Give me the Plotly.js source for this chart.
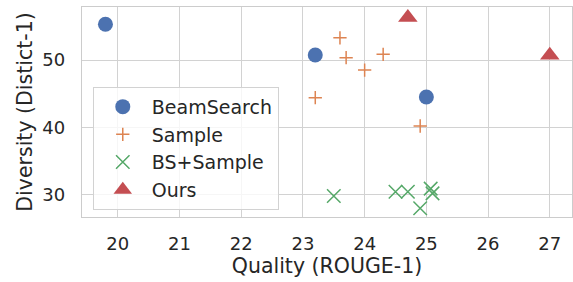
<!DOCTYPE html>
<html><head><meta charset="utf-8">
<script src="https://cdn.plot.ly/plotly-3.0.1.min.js"></script>
<style>html,body{margin:0;padding:0;background:#fff}#plot{width:573px;height:282px}</style>
</head><body><div id="plot"></div>
<script>
const beamX = [19.8, 23.2, 25.0];
const beamY = [55.3, 50.75, 44.5];
const sampleX = [23.6, 23.7, 24.0, 24.3, 23.2, 24.9];
const sampleY = [53.3, 50.35, 48.5, 50.85, 44.4, 40.2];
const bsSampleX = [23.5, 24.5, 24.7, 24.9, 25.07, 25.1];
const bsSampleY = [29.8, 30.45, 30.45, 28.0, 30.9, 30.2];
const oursX = [24.7, 27.0];
const oursY = [56.3, 50.7];
const names = ['BeamSearch', 'Sample', 'BS+Sample', 'Ours'];
const colors = ['#4C72B0', '#DD8452', '#55A868', '#C44E52'];

const traces = [
  {x: beamX, y: beamY, name: names[0], mode: 'markers', type: 'scatter',
   marker: {symbol: 'circle', size: 15, color: colors[0], line: {width: 0}}},
  {x: sampleX, y: sampleY, name: names[1], mode: 'markers', type: 'scatter',
   marker: {symbol: 'cross-thin', size: 9.5, color: colors[1], line: {width: 1.5, color: colors[1]}}},
  {x: bsSampleX, y: bsSampleY, name: names[2], mode: 'markers', type: 'scatter',
   marker: {symbol: 'x-thin', size: 13.5, color: colors[2], line: {width: 1.5, color: colors[2]}}},
  {x: oursX, y: oursY, name: names[3], mode: 'markers', type: 'scatter',
   marker: {symbol: 'triangle-up', size: 17, color: colors[3], line: {width: 0}}}
];

const axisCommon = {
  showgrid: true, gridcolor: '#d2d2d2', gridwidth: 1,
  showline: true, mirror: true, linecolor: '#cccccc', linewidth: 1.25,
  zeroline: false, ticks: '', tickfont: {size: 18, color: '#262626', family: 'DejaVu Sans'}
};

const layout = {
  width: 573, height: 282,
  margin: {l: 82, r: 1, t: 7, b: 65},
  paper_bgcolor: '#ffffff', plot_bgcolor: '#ffffff',
  font: {family: 'DejaVu Sans', color: '#262626', size: 18},
  showlegend: true,
  legend: {x: 0.022, y: 0.62, xanchor: 'left', yanchor: 'top',
    bgcolor: 'rgba(255,255,255,0.8)', bordercolor: '#d2d2d2', borderwidth: 1,
    font: {size: 19, color: '#262626'}, itemwidth: 48, itemsizing: 'trace'},
  xaxis: Object.assign({}, axisCommon, {
    range: [19.42, 27.36], tickvals: [20, 21, 22, 23, 24, 25, 26, 27],
    ticklabelstandoff: 10,
    title: {text: 'Quality (ROUGE-1)', font: {size: 20.5, color: '#262626'}, standoff: 5}
  }),
  yaxis: Object.assign({}, axisCommon, {
    range: [26.69, 57.87], tickvals: [30, 40, 50],
    ticklabelstandoff: 12,
    title: {text: 'Diversity (Distict-1)', font: {size: 20.5, color: '#262626'}, standoff: 4}
  })
};

Plotly.newPlot('plot', traces, layout, {displayModeBar: false, staticPlot: true});
</script></body></html>
